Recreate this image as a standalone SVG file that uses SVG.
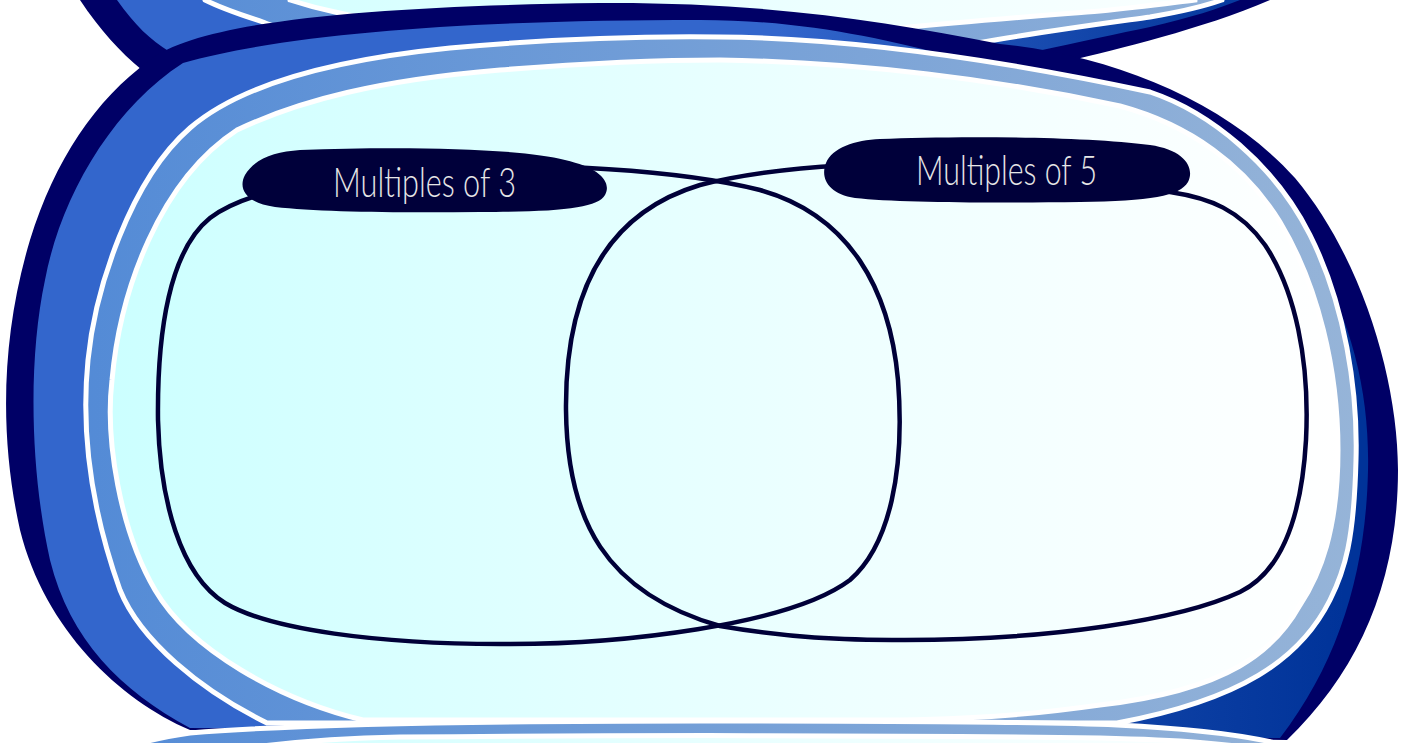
<svg xmlns="http://www.w3.org/2000/svg" width="1415" height="743" viewBox="0 0 1415 743">
<defs>
<linearGradient id="gBlue" gradientUnits="userSpaceOnUse" x1="0" y1="0" x2="1415" y2="0">
<stop offset="0" stop-color="#3366cc"/><stop offset="0.55" stop-color="#3366cc"/><stop offset="0.8" stop-color="#0e41a5"/><stop offset="0.95" stop-color="#003399"/>
</linearGradient>
<linearGradient id="gLight" gradientUnits="userSpaceOnUse" x1="0" y1="0" x2="1415" y2="0">
<stop offset="0" stop-color="#4f88d6"/><stop offset="1" stop-color="#99b6d8"/>
</linearGradient>
<linearGradient id="gCyan" gradientUnits="userSpaceOnUse" x1="0" y1="0" x2="1415" y2="0">
<stop offset="0.08" stop-color="#ccffff"/><stop offset="0.6" stop-color="#eeffff"/><stop offset="0.95" stop-color="#ffffff"/>
</linearGradient>
<style>
.nv{fill:#000066}
.bl{fill:url(#gBlue)}
.lb{fill:url(#gLight);stroke:#ffffff;stroke-width:5}
.cy{fill:url(#gCyan);stroke:#ffffff;stroke-width:5}
.set{fill:none;stroke:#000038;stroke-width:4.5}
.pill{fill:#00003a}
.lbl{font-family:Lato,"Open Sans","DejaVu Sans",sans-serif;font-weight:300;font-size:42px;fill:#e6e6e6}
</style>
</defs>
<rect width="1415" height="743" fill="#ffffff"/>
<g id="frame-top">
<path class="nv" d="M60,-40 C70,-20 75,-8 80,0 C100,30 120,52 142,70 C200,115 900,110 1065,62 C1120,48 1200,30 1270,0 C1300,-15 1320,-30 1330,-60 Z"/>
<path class="bl" d="M100,-40 C108,-20 112,-8 117,0 C135,25 150,40 170,52 C250,100 900,100 1033,52 C1080,42 1120,33 1150,27 C1190,18 1220,8 1240,0 L1260,-60 Z"/>
<path class="lb" d="M190,-40 L205,0 C225,10 245,16 263,22 C350,60 850,70 977,43 C1040,32 1100,24 1150,17 C1180,12 1205,6 1222,0 L1240,-60 Z"/>
<path class="cy" d="M280,-40 L290,0 C305,5 320,9 335,12 C500,50 800,45 900,28 C980,20 1050,15 1100,11 C1140,7 1170,3 1195,0 L1200,-60 Z"/>
</g>
<g id="frame-main">
<path class="nv" d="M150,60 C200,20 380,6 600,3 C760,2 880,20 1000,44 C1110,55 1225,100 1295,178 C1362,258 1398,380 1398,470 C1398,580 1360,670 1287,740 L190,730 C120,700 45,630 20,530 C0,440 0,340 30,240 C55,160 95,100 150,60 Z"/>
<path class="bl" d="M183,63 C300,30 500,20 700,20 C800,20 880,38 950,56 C1100,88 1215,140 1275,205 C1345,285 1370,380 1368,470 C1366,570 1340,660 1280,738 L190,728 C120,690 70,640 50,560 C30,470 28,360 45,280 C60,200 110,110 183,63 Z"/>
<path class="lb" d="M190,128 C240,85 330,60 450,48 C560,38 640,36 720,37 C850,38 1000,60 1150,92 C1210,112 1275,165 1310,235 C1345,305 1358,390 1356,460 C1354,540 1345,570 1330,600 C1300,660 1240,700 1117,723 L267,723 C200,690 140,640 120,590 C95,520 80,440 88,360 C95,290 130,180 190,128 Z"/>
<path class="cy" d="M237,130 C300,100 380,80 500,70 C600,62 660,60 720,60 C860,62 1000,80 1120,106 C1190,125 1245,165 1280,222 C1318,285 1338,370 1338,450 C1338,530 1320,575 1300,605 C1275,650 1230,690 1100,705 C1050,712 1000,718 900,720 L363,720 C280,700 190,650 155,590 C120,530 105,440 112,380 C120,290 160,180 237,130 Z"/>
</g>
<g id="frame-bottom">
<path class="lb" d="M90,770 C110,752 130,742 190,733 C300,724 500,721 700,721 C900,721 1050,722 1117,725 C1200,729 1260,736 1300,750 L1300,770 Z"/>
<path class="cy" d="M150,770 C200,750 300,739 400,737 C600,735 900,735 1100,738 C1180,740 1230,743 1270,752 L1270,770 Z"/>
</g>
<g id="connectors">
<path id="set-3" class="set" d="M420,168 C550,162 680,170 760,190 C850,215 890,290 898,380 C905,470 890,545 850,580 C790,625 620,645 500,644 C380,644 270,630 225,603 C180,575 160,500 158,420 C157,330 170,250 210,218 C240,195 300,180 420,168 Z"/>
<path id="set-5" class="set" d="M1000,170 C900,158 780,165 700,185 C600,215 565,300 566,410 C567,520 605,593 720,626 C790,638 840,640 905,640 C1050,640 1180,620 1240,592 C1285,570 1302,510 1306,440 C1310,360 1295,290 1265,245 C1240,210 1210,198 1170,192 C1100,180 1050,172 1000,170 Z"/>
</g>
<g id="label-3">
<path class="pill" d="M300,150 C400,146 520,148 565,160 C600,168 612,182 605,195 C598,208 560,212 480,212 C400,213 320,212 275,207 C245,203 238,188 245,175 C255,158 275,152 300,150 Z"/>
<text class="lbl" x="333" y="197" textLength="183" lengthAdjust="spacingAndGlyphs">Multiples of 3</text>
</g>
<g id="label-5">
<path class="pill" d="M880,139 C950,136 1080,136 1150,145 C1185,150 1195,168 1188,182 C1180,196 1150,201 1080,202 C1000,203 900,203 855,198 C828,194 820,178 826,163 C832,148 855,140 880,139 Z"/>
<text class="lbl" x="916" y="185" textLength="181" lengthAdjust="spacingAndGlyphs">Multiples of 5</text>
</g>
</svg>
